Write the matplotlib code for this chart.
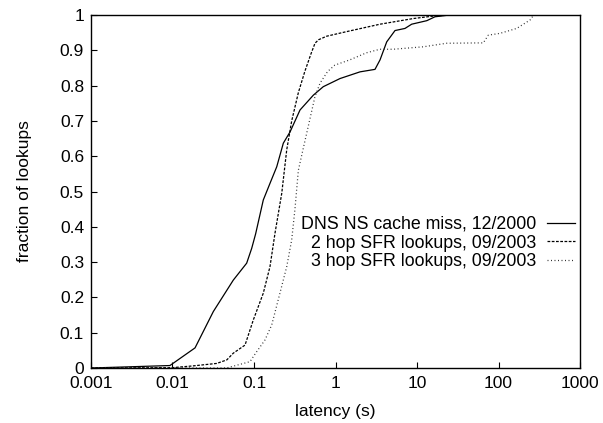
import matplotlib
matplotlib.use("Agg")
import matplotlib.pyplot as plt

plt.rcParams['font.family'] = ['Liberation Sans', 'DejaVu Sans']

# DNS NS cache miss, 12/2000
dns_x = [0.001, 0.0093, 0.0189, 0.0317, 0.0557, 0.0813, 0.0937, 0.1047, 0.13, 0.157,
         0.19, 0.229, 0.277, 0.367, 0.535, 0.708, 1.135, 2.0, 3.05, 3.52, 4.25, 5.37,
         7.12, 8.6, 13.2, 16.6, 25, 1000]
dns_y = [0.0, 0.007, 0.057, 0.16, 0.249, 0.297, 0.339, 0.38, 0.476, 0.523,
         0.57, 0.637, 0.669, 0.731, 0.773, 0.797, 0.82, 0.839, 0.846, 0.873, 0.924, 0.956,
         0.962, 0.974, 0.984, 0.995, 1.0, 1.0]

# 2 hop SFR lookups, 09/2003
hop2_x = [0.001, 0.01, 0.0179, 0.0349, 0.0464, 0.0557, 0.0776, 0.098, 0.13, 0.157,
          0.181, 0.219, 0.252, 0.29, 0.35, 0.42, 0.5, 0.56, 0.62, 0.78, 1.37, 3.52,
          9.0, 15.8, 25, 1000]
hop2_y = [0.0, 0.001, 0.006, 0.013, 0.023, 0.042, 0.065, 0.136, 0.212, 0.287,
          0.382, 0.495, 0.618, 0.70, 0.78, 0.84, 0.89, 0.92, 0.93, 0.94, 0.953, 0.974,
          0.99, 0.997, 1.0, 1.0]

# 3 hop SFR lookups, 09/2003
hop3_x = [0.001, 0.046, 0.0893, 0.1047, 0.136, 0.165, 0.208, 0.252, 0.29, 0.318,
          0.35, 0.40, 0.443, 0.56, 0.646, 0.80, 0.98, 1.5, 2.4, 3.5, 5.1, 12, 23,
          59, 65, 75, 104, 167, 244, 270, 1000]
hop3_y = [0.0, 0.0, 0.018, 0.042, 0.079, 0.122, 0.212, 0.287, 0.363, 0.45,
          0.56, 0.62, 0.665, 0.769, 0.807, 0.84, 0.858, 0.873, 0.893, 0.903, 0.903, 0.91, 0.92,
          0.921, 0.921, 0.943, 0.948, 0.962, 0.986, 1.0, 1.0]

labels = ["DNS NS cache miss, 12/2000",
          "2 hop SFR lookups, 09/2003",
          "3 hop SFR lookups, 09/2003"]

fig = plt.figure(figsize=(6.03, 4.23), dpi=100)
ax = fig.add_axes([0.1509, 0.130, 0.811, 0.8345])

ax.plot(dns_x, dns_y, color='black', lw=0.9, ls='-', label=labels[0])
ax.plot(hop2_x, hop2_y, color='black', lw=0.9, ls=(0, (2.2, 1.2)), label=labels[1])
ax.plot(hop3_x, hop3_y, color='#333333', lw=0.9, ls=(0, (0.8, 2.0)), label=labels[2])

ax.set_xscale('log')
ax.set_xlim(0.001, 1000)
ax.set_ylim(0, 1)
ax.set_xticks([0.001, 0.01, 0.1, 1, 10, 100, 1000])
ax.set_xticklabels(["0.001", "0.01", "0.1", "1", "10", "100", "1000"])
ax.minorticks_off()
ax.set_yticks([i / 10 for i in range(11)])
ax.set_yticklabels(["0"] + [f"{i / 10:.1f}" for i in range(1, 10)] + ["1"])
ax.tick_params(axis='both', direction='in', length=4, width=0.8, labelsize=12.5,
               top=False, right=False)
ax.tick_params(axis='x', pad=6)
ax.tick_params(axis='y', pad=5)

for s in ax.spines.values():
    s.set_linewidth(1.0)

ax.set_xlabel("latency (s)", fontsize=12.5, labelpad=9)
ax.set_ylabel("fraction of lookups", fontsize=12.5, labelpad=20)

ax.legend(loc='center right', bbox_to_anchor=(1.0, 0.354), frameon=False,
          markerfirst=False, fontsize=12.8, handlelength=1.55, handletextpad=0.6,
          labelspacing=0.1, borderpad=0.3, borderaxespad=0.0)

fig.savefig("out.png", dpi=100)
